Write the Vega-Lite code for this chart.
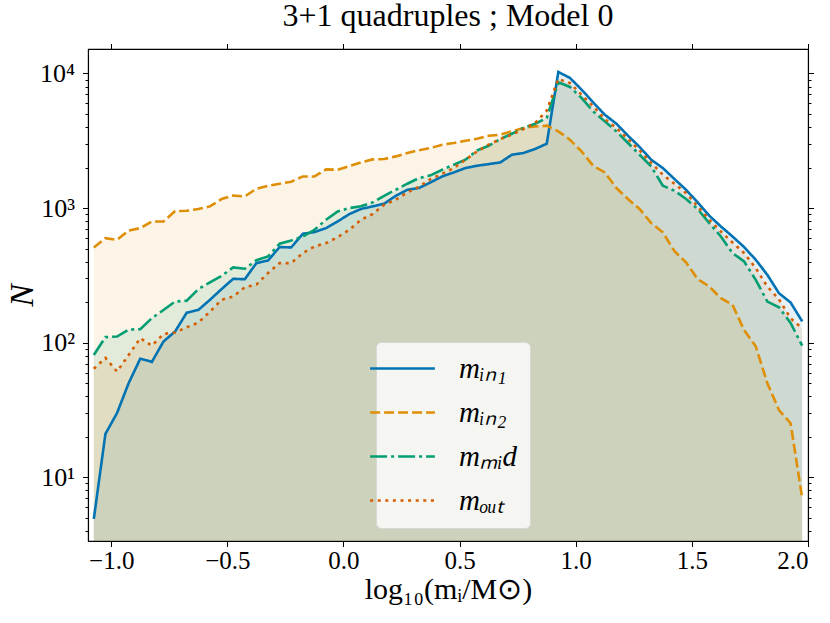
{
  "$schema": "https://vega.github.io/schema/vega-lite/v6.json",
  "width": 720,
  "height": 492,
  "autosize": "none",
  "padding": {"left": 88, "top": 49, "right": 22, "bottom": 82},
  "background": "white",
  "title": {
    "text": "3+1 quadruples ; Model 0",
    "font": "Liberation Serif",
    "fontSize": 32,
    "fontWeight": "normal",
    "color": "black",
    "anchor": "middle",
    "offset": 10
  },
  "data": {
    "values": [
      {"x": -1.075, "m_in1": 4.9, "m_in2": 509, "m_mid": 81, "m_out": 64},
      {"x": -1.025, "m_in1": 21, "m_in2": 598, "m_mid": 110, "m_out": 77},
      {"x": -0.975, "m_in1": 30, "m_in2": 581, "m_mid": 111, "m_out": 61},
      {"x": -0.925, "m_in1": 50, "m_in2": 681, "m_mid": 125, "m_out": 81},
      {"x": -0.875, "m_in1": 76, "m_in2": 710, "m_mid": 126, "m_out": 108},
      {"x": -0.825, "m_in1": 72, "m_in2": 795, "m_mid": 152, "m_out": 95},
      {"x": -0.775, "m_in1": 102, "m_in2": 795, "m_mid": 175, "m_out": 116},
      {"x": -0.725, "m_in1": 121, "m_in2": 950, "m_mid": 202, "m_out": 119},
      {"x": -0.675, "m_in1": 167, "m_in2": 955, "m_mid": 205, "m_out": 130},
      {"x": -0.625, "m_in1": 175, "m_in2": 984, "m_mid": 250, "m_out": 141},
      {"x": -0.575, "m_in1": 208, "m_in2": 1029, "m_mid": 280, "m_out": 170},
      {"x": -0.525, "m_in1": 250, "m_in2": 1167, "m_mid": 314, "m_out": 208},
      {"x": -0.475, "m_in1": 298, "m_in2": 1241, "m_mid": 362, "m_out": 220},
      {"x": -0.425, "m_in1": 296, "m_in2": 1220, "m_mid": 354, "m_out": 258},
      {"x": -0.375, "m_in1": 390, "m_in2": 1392, "m_mid": 410, "m_out": 270},
      {"x": -0.325, "m_in1": 408, "m_in2": 1460, "m_mid": 437, "m_out": 329},
      {"x": -0.275, "m_in1": 513, "m_in2": 1517, "m_mid": 543, "m_out": 390},
      {"x": -0.225, "m_in1": 510, "m_in2": 1570, "m_mid": 575, "m_out": 390},
      {"x": -0.175, "m_in1": 644, "m_in2": 1718, "m_mid": 615, "m_out": 463},
      {"x": -0.125, "m_in1": 663, "m_in2": 1718, "m_mid": 690, "m_out": 518},
      {"x": -0.075, "m_in1": 710, "m_in2": 1940, "m_mid": 818, "m_out": 549},
      {"x": -0.025, "m_in1": 795, "m_in2": 1927, "m_mid": 944, "m_out": 608},
      {"x": 0.025, "m_in1": 902, "m_in2": 2050, "m_mid": 1000, "m_out": 690},
      {"x": 0.075, "m_in1": 984, "m_in2": 2183, "m_mid": 1030, "m_out": 818},
      {"x": 0.125, "m_in1": 1029, "m_in2": 2300, "m_mid": 1102, "m_out": 902},
      {"x": 0.175, "m_in1": 1077, "m_in2": 2313, "m_mid": 1233, "m_out": 1059},
      {"x": 0.225, "m_in1": 1233, "m_in2": 2421, "m_mid": 1367, "m_out": 1153},
      {"x": 0.275, "m_in1": 1367, "m_in2": 2566, "m_mid": 1517, "m_out": 1306},
      {"x": 0.325, "m_in1": 1410, "m_in2": 2690, "m_mid": 1671, "m_out": 1440},
      {"x": 0.375, "m_in1": 1552, "m_in2": 2793, "m_mid": 1750, "m_out": 1643},
      {"x": 0.425, "m_in1": 1718, "m_in2": 2958, "m_mid": 1927, "m_out": 1799},
      {"x": 0.475, "m_in1": 1841, "m_in2": 3042, "m_mid": 2100, "m_out": 1983},
      {"x": 0.525, "m_in1": 1983, "m_in2": 3163, "m_mid": 2286, "m_out": 2286},
      {"x": 0.575, "m_in1": 2063, "m_in2": 3273, "m_mid": 2680, "m_out": 2635},
      {"x": 0.625, "m_in1": 2122, "m_in2": 3450, "m_mid": 2904, "m_out": 2958},
      {"x": 0.675, "m_in1": 2183, "m_in2": 3509, "m_mid": 3257, "m_out": 3257},
      {"x": 0.725, "m_in1": 2490, "m_in2": 3716, "m_mid": 3566, "m_out": 3508},
      {"x": 0.775, "m_in1": 2566, "m_in2": 3933, "m_mid": 3933, "m_out": 3864},
      {"x": 0.825, "m_in1": 2748, "m_in2": 4045, "m_mid": 4236, "m_out": 4286},
      {"x": 0.875, "m_in1": 3006, "m_in2": 4093, "m_mid": 4670, "m_out": 5300},
      {"x": 0.925, "m_in1": 10260, "m_in2": 3716, "m_mid": 8600, "m_out": 9100},
      {"x": 0.975, "m_in1": 9270, "m_in2": 3222, "m_mid": 7940, "m_out": 8500},
      {"x": 1.025, "m_in1": 7590, "m_in2": 2635, "m_mid": 6580, "m_out": 6950},
      {"x": 1.075, "m_in1": 6095, "m_in2": 2063, "m_mid": 5226, "m_out": 5690},
      {"x": 1.125, "m_in1": 4940, "m_in2": 1841, "m_mid": 4406, "m_out": 4590},
      {"x": 1.175, "m_in1": 4236, "m_in2": 1409, "m_mid": 3716, "m_out": 3933},
      {"x": 1.225, "m_in1": 3450, "m_in2": 1167, "m_mid": 3042, "m_out": 3257},
      {"x": 1.275, "m_in1": 2844, "m_in2": 984, "m_mid": 2490, "m_out": 2680},
      {"x": 1.325, "m_in1": 2286, "m_in2": 773, "m_mid": 2037, "m_out": 2164},
      {"x": 1.375, "m_in1": 1983, "m_in2": 660, "m_mid": 1466, "m_out": 1770},
      {"x": 1.425, "m_in1": 1643, "m_in2": 478, "m_mid": 1346, "m_out": 1517},
      {"x": 1.475, "m_in1": 1367, "m_in2": 395, "m_mid": 1167, "m_out": 1294},
      {"x": 1.525, "m_in1": 1102, "m_in2": 297, "m_mid": 984, "m_out": 1029},
      {"x": 1.575, "m_in1": 877, "m_in2": 261, "m_mid": 773, "m_out": 818},
      {"x": 1.625, "m_in1": 730, "m_in2": 214, "m_mid": 615, "m_out": 670},
      {"x": 1.675, "m_in1": 615, "m_in2": 191, "m_mid": 463, "m_out": 555},
      {"x": 1.725, "m_in1": 513, "m_in2": 124, "m_mid": 401, "m_out": 463},
      {"x": 1.775, "m_in1": 413, "m_in2": 94, "m_mid": 293, "m_out": 358},
      {"x": 1.825, "m_in1": 319, "m_in2": 50, "m_mid": 202, "m_out": 261},
      {"x": 1.875, "m_in1": 233, "m_in2": 31.6, "m_mid": 183, "m_out": 210},
      {"x": 1.925, "m_in1": 199, "m_in2": 25.2, "m_mid": 140, "m_out": 152},
      {"x": 1.975, "m_in1": 144, "m_in2": 7.0, "m_mid": 95, "m_out": 128}
    ]
  },
  "layer": [
    {
      "transform": [
        {"fold": ["m_in1", "m_in2", "m_mid", "m_out"], "as": ["group", "N"]}
      ],
      "mark": {"type": "area", "fillOpacity": 0.1, "clip": true},
      "encoding": {
        "x": {
          "field": "x",
          "type": "quantitative",
          "scale": {"domain": [-1.1, 2.0], "nice": false, "zero": false},
          "axis": {
            "orient": "bottom",
            "values": [-1, -0.5, 0, 0.5, 1, 1.5, 2],
            "format": ".1f",
            "labelFontSize": 25,
            "labelPadding": 2,
            "titlePadding": 1,
            "titleFontSize": 30,
            "title": "log₁₀(mᵢ/M⊙)"
          }
        },
        "y": {
          "field": "N",
          "type": "quantitative",
          "stack": null,
          "scale": {"type": "log", "domain": [3.36, 15200], "nice": false},
          "axis": {
            "orient": "left",
            "values": [4, 5, 6, 7, 8, 9, 10, 20, 30, 40, 50, 60, 70, 80, 90, 100, 200, 300, 400, 500, 600, 700, 800, 900, 1000, 2000, 3000, 4000, 5000, 6000, 7000, 8000, 9000, 10000],
            "labelExpr": "datum.value == 10 ? '10¹' : datum.value == 100 ? '10²' : datum.value == 1000 ? '10³' : datum.value == 10000 ? '10⁴' : ''",
            "tickSize": {"condition": {"test": "indexof([10, 100, 1000, 10000], datum.value) >= 0", "value": 5.5}, "value": 3},
            "labelFontSize": 26,
            "labelPadding": 8,
            "title": "N",
            "titleFontStyle": "italic",
            "titleFontSize": 34,
            "titlePadding": 0
          }
        },
        "fill": {
          "field": "group",
          "type": "nominal",
          "scale": {"domain": ["m_in1", "m_in2", "m_mid", "m_out"], "range": ["#0173B2", "#DE8F05", "#029E73", "#D55E00"]},
          "legend": null
        }
      }
    },
    {
      "transform": [
        {"fold": ["m_in1", "m_in2", "m_mid", "m_out"], "as": ["series", "N"]}
      ],
      "mark": {"type": "line", "strokeWidth": 2.6, "clip": true},
      "encoding": {
        "x": {
          "field": "x",
          "type": "quantitative",
          "axis": {"orient": "top", "values": [-1, -0.5, 0, 0.5, 1, 1.5, 2], "labels": false, "title": null}
        },
        "y": {
          "field": "N",
          "type": "quantitative",
          "axis": {
            "orient": "right",
            "values": [4, 5, 6, 7, 8, 9, 10, 20, 30, 40, 50, 60, 70, 80, 90, 100, 200, 300, 400, 500, 600, 700, 800, 900, 1000, 2000, 3000, 4000, 5000, 6000, 7000, 8000, 9000, 10000],
            "labels": false,
            "tickSize": {"condition": {"test": "indexof([10, 100, 1000, 10000], datum.value) >= 0", "value": 5.5}, "value": 3},
            "title": null
          }
        },
        "color": {
          "field": "series",
          "type": "nominal",
          "scale": {"range": ["#0173B2", "#DE8F05", "#029E73", "#D55E00"]},
          "legend": {
            "orient": "none",
            "legendX": 288,
            "legendY": 293,
            "title": null,
            "symbolType": "M-2.7,0H2.7",
            "symbolSize": 576,
            "symbolStrokeWidth": 2.6,
            "labelOffset": 42,
            "labelFont": "Liberation Serif",
            "labelFontStyle": "italic",
            "labelFontSize": 29,
            "labelLimit": 200,
            "rowPadding": 14,
            "padding": 12,
            "fillColor": "#F5F6F2",
            "strokeColor": "#d8d8d8",
            "cornerRadius": 5,
            "labelExpr": "datum.label == 'm_in1' ? 'mᵢₙ₁' : datum.label == 'm_in2' ? 'mᵢₙ₂' : datum.label == 'm_mid' ? 'mₘᵢd' : 'mₒᵤₜ'"
          }
        },
        "strokeDash": {
          "field": "series",
          "type": "nominal",
          "scale": {"range": [[1, 0], [10, 4], [17, 4, 3, 4], [3, 4.6]]}
        }
      }
    }
  ],
  "resolve": {"axis": {"x": "independent", "y": "independent"}},
  "config": {
    "view": {"stroke": "black", "strokeWidth": 1.1},
    "axis": {
      "grid": false,
      "domainColor": "black",
      "domainWidth": 1.1,
      "tickColor": "black",
      "tickWidth": 1,
      "labelFont": "Liberation Serif",
      "labelColor": "black",
      "labelOverlap": false,
      "titleFont": "Liberation Serif",
      "titleFontSize": 32,
      "titleFontWeight": "normal",
      "titleColor": "black"
    },
    "axisX": {"tickSize": 5.5}
  }
}
